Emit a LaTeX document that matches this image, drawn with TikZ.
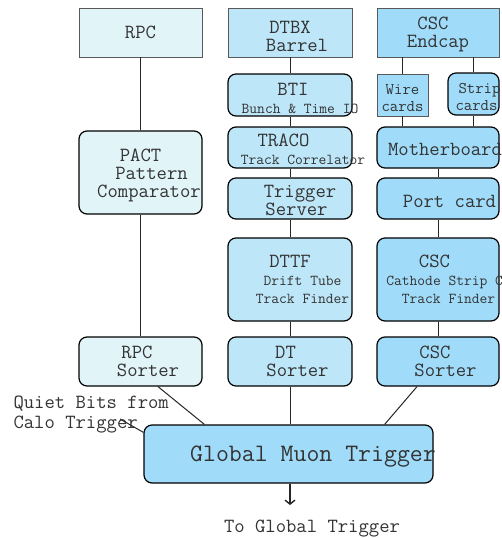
\documentclass[tikz,border=0pt]{standalone}
\usepackage{fontspec}
\renewcommand{\familydefault}{\ttdefault}
\usetikzlibrary{arrows.meta,calc}
\definecolor{rpcblue}{HTML}{E1F5F9}
\definecolor{dtblue}{HTML}{BDE6F8}
\definecolor{cscblue}{HTML}{A0DCFA}
\definecolor{txtgray}{HTML}{333333}
\setlength{\parindent}{0pt}
\newcommand{\lbl}[2]{\makebox[0pt]{\kern#1pt#2\kern-#1pt}}
\newcommand{\dn}[1]{\rule{0pt}{\dimexpr\fontcharht\font`T+#1pt*2\relax}}
\newcommand{\smtxt}{\fontsize{15.1}{15}\selectfont}

\begin{document}
\begin{tikzpicture}[x=1pt, y=-1pt,
    every node/.style={font=\ttfamily\fontsize{20.1}{18}\selectfont, text=txtgray, align=center},
    sqbox/.style={draw=black!65, line width=0.8pt, inner sep=0pt},
    rndbox/.style={draw=black, line width=1.2pt, rounded corners=8pt, inner sep=0pt},
    link/.style={draw=black!85, line width=1pt}]
    \useasboundingbox (0,0) rectangle (502,538);
    \clip (0,0) rectangle (502,538);

    % RPC column
    \node[sqbox, fill=rpcblue, minimum width=123pt, minimum height=49pt] (rpc) at (140.5,32.5) {RPC};
    \node[rndbox, fill=rpcblue, minimum width=123pt, minimum height=83pt] (pact) at (140.5,172.5)
        {\dn{3.5}PACT\\ \lbl{11}{Pattern}\\ \lbl{8.5}{Comparator}};
    \node[rndbox, fill=rpcblue, minimum width=123pt, minimum height=49pt] (rpcsort) at (140.5,361.5)
        {\lbl{-3.5}{RPC}\\ \lbl{7.5}{Sorter}};

    % DT column
    \node[sqbox, fill=dtblue, minimum width=124pt, minimum height=49pt] (dtbx) at (290,32.5)
        {\dn{4}DTBX\\ \lbl{7}{Barrel}};
    \node[rndbox, fill=dtblue, minimum width=124pt, minimum height=42pt] (bti) at (290,95)
        {\dn{3}\lbl{3}{BTI}\\ \smtxt\lbl{10}{Bunch \& Time IO}};
    \node[rndbox, fill=dtblue, minimum width=124pt, minimum height=41pt] (traco) at (290,147.5)
        {\dn{2}\lbl{-6.5}{TRACO}\\ \smtxt\lbl{13}{Track Correlator}};
    \node[rndbox, fill=dtblue, minimum width=124pt, minimum height=41pt] (tserv) at (290,198.5)
        {\dn{2}\lbl{10}{Trigger}\\ \lbl{6.5}{Server}};
    \node[rndbox, fill=dtblue, minimum width=124pt, minimum height=83pt] (dttf) at (290,279.5)
        {DTTF\\ \smtxt\lbl{12.5}{Drift Tube}\\ \smtxt\lbl{12.5}{Track Finder}};
    \node[rndbox, fill=dtblue, minimum width=124pt, minimum height=49pt] (dtsort) at (290,361.5)
        {\lbl{-4.5}{DT}\\ \lbl{7.5}{Sorter}};

    % CSC column
    \node[sqbox, fill=cscblue, minimum width=122pt, minimum height=49pt] (endcap) at (438,32.5)
        {\dn{2}\lbl{-5}{CSC}\\ Endcap};
    \node[sqbox, fill=cscblue, minimum width=51pt, minimum height=42pt, font=\ttfamily\fontsize{16.3}{17}\selectfont] (wire) at (402.5,95)
        {\dn{3}Wire\\ cards};
    \node[rndbox, fill=cscblue, minimum width=51pt, minimum height=42pt, font=\ttfamily\fontsize{16.3}{17}\selectfont] (strip) at (473.5,94)
        {\dn{3.5}\lbl{6}{Strip}\\ \lbl{3}{cards}};
    \node[rndbox, fill=cscblue, minimum width=122pt, minimum height=41pt] (mboard) at (438,147.5)
        {\dn{2}\lbl{7}{Motherboard}};
    \node[rndbox, fill=cscblue, minimum width=122pt, minimum height=41pt] (port) at (438,198.5)
        {\dn{3}\lbl{11.5}{Port card}};
    \node[rndbox, fill=cscblue, minimum width=122pt, minimum height=83pt] (csctf) at (438,279.5)
        {\lbl{-3.5}{CSC}\\ \smtxt\lbl{30}{Cathode Strip Chamber}\\ \smtxt\lbl{10.5}{Track Finder}};
    \node[rndbox, fill=cscblue, minimum width=122pt, minimum height=49pt] (cscsort) at (438,361.5)
        {\lbl{-3}{CSC}\\ \lbl{7.5}{Sorter}};

    % global trigger
    \node[rndbox, fill=cscblue, minimum width=289pt, minimum height=58pt, font=\ttfamily\fontsize{25.1}{26}\selectfont] (gmt) at (288.5,454)
        {\dn{2.5}\lbl{24.5}{Global Muon Trigger}};
    \node[anchor=base west, align=left] (quiet) at (10,428) {Quiet Bits from\\[2pt]Calo Trigger};
    \node[anchor=base] (togt) at (312,532) {To Global Trigger};
    \coordinate (qb) at (120,419);
    \coordinate (out) at (290,505);

    \draw[link] (rpc) -- (pact);
    \draw[link] (pact) -- (rpcsort);
    \draw[link] (dtbx) -- (bti);
    \draw[link] (bti) -- (traco);
    \draw[link] (traco) -- (tserv);
    \draw[link] (tserv) -- (dttf);
    \draw[link] (dttf) -- (dtsort);
    \draw[link] (wire.north |- endcap.south) -- (wire.north);
    \draw[link] (strip.north |- endcap.south) -- (strip.north);
    \draw[link] (wire.south) -- (wire.south |- mboard.north);
    \draw[link] (strip.south) -- (strip.south |- mboard.north);
    \draw[link] (mboard) -- (port);
    \draw[link] (port) -- (csctf);
    \draw[link] (csctf) -- (cscsort);

    \draw[link] ($(rpcsort.south)+(17.5,0)$) -- ($(gmt.north west)+(61,0)$);
    \draw[link] (dtsort.south) -- (dtsort.south |- gmt.north);
    \draw[link] ($(cscsort.south)+(-21,0)$) -- ($(gmt.north east)+(-49,0)$);
    \draw[link] (qb) -- ($(gmt.north west)+(0,8)$);
    \draw[link, line width=1.4pt, -{Straight Barb[length=4pt, width=10pt]}] (gmt.south -| out) -- (out);
\end{tikzpicture}
\end{document}
